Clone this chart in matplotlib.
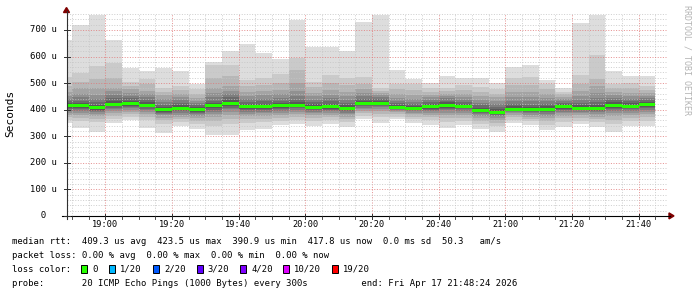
"""SmokePing-style latency graph (rrdtool look) redrawn with matplotlib."""

import numpy as np
import pandas as pd
import matplotlib

matplotlib.use("Agg")
import matplotlib.pyplot as plt
import matplotlib.dates as mdates
import matplotlib.transforms as mtrans
from matplotlib.lines import Line2D
from matplotlib.patches import Polygon, Rectangle


# ---- data -------------------------------------------------------------
# 5 minute rounds starting 18:45, 20 pings each (sorted, microseconds)
round_start = pd.date_range("2026-04-17 18:45", periods=37, freq="5min")
view_start = pd.Timestamp("2026-04-17 18:48:24")
view_end = pd.Timestamp("2026-04-17 21:48:24")

smoke_us = [
    [349, 362, 372, 381, 389, 395, 401, 405, 409, 412, 416, 420, 426, 433, 441, 452, 468, 490, 523, 664],
    [332, 358, 370, 380, 388, 395, 401, 406, 410, 413, 415, 419, 425, 434, 446, 460, 480, 505, 538, 720],
    [317, 352, 365, 376, 384, 391, 396, 400, 404, 406, 408, 412, 418, 428, 440, 456, 482, 517, 566, 755],
    [350, 366, 377, 387, 395, 402, 408, 413, 417, 420, 422, 426, 432, 442, 455, 470, 483, 520, 574, 664],
    [360, 372, 382, 391, 399, 405, 410, 415, 419, 422, 424, 428, 434, 442, 452, 463, 476, 490, 505, 555],
    [332, 360, 372, 382, 391, 398, 404, 409, 413, 416, 418, 422, 428, 436, 446, 458, 472, 495, 517, 545],
    [313, 345, 360, 370, 378, 384, 389, 393, 396, 398, 400, 404, 410, 418, 428, 440, 455, 468, 483, 557],
    [338, 352, 363, 373, 381, 388, 394, 399, 403, 405, 407, 411, 417, 425, 435, 447, 460, 474, 488, 545],
    [326, 345, 358, 368, 376, 383, 388, 392, 396, 398, 400, 404, 409, 416, 424, 434, 445, 460, 476, 495],
    [304, 340, 358, 372, 383, 392, 399, 405, 410, 413, 415, 419, 425, 434, 446, 462, 483, 520, 567, 580],
    [304, 345, 365, 380, 392, 401, 408, 414, 419, 423, 425, 430, 437, 446, 458, 472, 490, 525, 567, 620],
    [323, 350, 364, 375, 384, 391, 397, 402, 406, 410, 412, 416, 422, 430, 440, 452, 466, 488, 513, 649],
    [327, 352, 366, 377, 386, 393, 399, 404, 408, 411, 413, 417, 423, 431, 441, 454, 470, 493, 521, 614],
    [342, 358, 370, 380, 389, 396, 402, 407, 411, 413, 415, 419, 425, 433, 444, 458, 475, 500, 533, 589],
    [345, 362, 374, 384, 393, 400, 406, 411, 414, 416, 418, 422, 429, 438, 452, 470, 500, 548, 596, 739],
    [338, 356, 368, 378, 386, 393, 398, 402, 406, 408, 410, 414, 420, 428, 438, 450, 464, 484, 505, 636],
    [345, 360, 371, 380, 388, 395, 400, 404, 408, 410, 412, 416, 422, 431, 442, 456, 474, 500, 530, 636],
    [335, 352, 364, 374, 382, 389, 395, 400, 403, 405, 407, 411, 417, 426, 437, 450, 468, 493, 521, 620],
    [363, 376, 386, 395, 402, 408, 413, 417, 420, 421, 423, 427, 433, 441, 451, 463, 478, 498, 523, 730],
    [350, 372, 385, 395, 403, 410, 415, 419, 422, 423, 424, 428, 433, 440, 448, 456, 464, 472, 480, 755],
    [363, 374, 383, 390, 396, 400, 403, 405, 407, 408, 410, 413, 418, 425, 434, 445, 458, 478, 498, 548],
    [350, 364, 374, 382, 389, 394, 398, 401, 403, 404, 406, 409, 414, 421, 430, 441, 455, 475, 498, 515],
    [342, 360, 372, 381, 389, 395, 400, 404, 408, 410, 412, 416, 421, 428, 436, 446, 457, 468, 480, 502],
    [332, 355, 369, 380, 389, 397, 403, 408, 412, 415, 417, 421, 427, 434, 442, 451, 460, 470, 480, 526],
    [342, 358, 370, 380, 388, 395, 401, 405, 409, 411, 413, 417, 422, 429, 437, 447, 458, 474, 492, 521],
    [327, 345, 357, 367, 375, 382, 387, 391, 394, 396, 398, 402, 408, 416, 426, 438, 452, 468, 486, 521],
    [317, 338, 351, 361, 369, 376, 381, 385, 388, 390, 392, 396, 402, 410, 420, 432, 446, 460, 476, 502],
    [350, 362, 371, 379, 386, 391, 395, 398, 400, 401, 403, 407, 413, 422, 434, 449, 468, 493, 521, 561],
    [344, 356, 366, 374, 381, 387, 391, 395, 397, 398, 400, 404, 410, 419, 431, 446, 465, 492, 523, 567],
    [323, 342, 356, 367, 376, 384, 390, 395, 399, 401, 403, 407, 413, 421, 431, 443, 458, 476, 498, 511],
    [335, 354, 367, 377, 386, 393, 399, 404, 408, 410, 412, 415, 420, 426, 433, 441, 449, 458, 467, 480],
    [345, 358, 369, 378, 386, 392, 397, 401, 403, 404, 406, 410, 416, 425, 437, 452, 472, 498, 530, 728],
    [335, 352, 364, 374, 383, 390, 396, 400, 403, 404, 406, 410, 417, 428, 443, 462, 488, 515, 607, 755],
    [317, 345, 362, 375, 386, 395, 402, 407, 412, 415, 417, 421, 427, 435, 444, 455, 466, 480, 495, 545],
    [338, 356, 369, 379, 388, 395, 401, 405, 409, 412, 414, 418, 424, 431, 440, 451, 463, 481, 500, 526],
    [338, 357, 371, 382, 391, 399, 405, 410, 414, 417, 419, 423, 429, 436, 444, 453, 463, 475, 488, 526],
]

median_us = [414, 414, 407, 421, 423, 417, 399, 406, 399, 414, 423.5, 411,
             412, 414, 417, 409, 411, 406, 422, 423, 409, 405, 411, 416,
             412, 397, 390.9, 402, 399, 402, 411, 405, 405, 416, 413, 417.8]

yticks = [0, 100, 200, 300, 400, 500, 600, 700]
ytick_labels = ["  0", "100 u", "200 u", "300 u", "400 u", "500 u", "600 u", "700 u"]
xtick_labels = ["19:00", "19:20", "19:40", "20:00", "20:20", "20:40",
                "21:00", "21:20", "21:40"]

loss_labels = ["0", "1/20", "2/20", "3/20", "4/20", "10/20", "19/20"]
loss_colors = ["#26ff00", "#00b8ff", "#0059ff", "#5e00ff", "#7e00ff", "#dd00ff", "#ff0000"]

legend_lines = [
    "median rtt:  409.3 us avg  423.5 us max  390.9 us min  417.8 us now  0.0 ms sd  50.3   am/s",
    "packet loss: 0.00 % avg  0.00 % max  0.00 % min  0.00 % now",
    "loss color:",
    "probe:       20 ICMP Echo Pings (1000 Bytes) every 300s          end: Fri Apr 17 21:48:24 2026",
]

# ---- layout (pixel based, like rrdtool) --------------------------------
W, H = 697, 297
MONO = "DejaVu Sans Mono"
AXIS = "#303030"
ARROW = "#7f0000"


def fx(px):
    return px / W


def fy(py):
    return 1 - py / H


L, R, T, B = 66.5, 666.5, 13.5, 215.9

fig = plt.figure(figsize=(W / 100, H / 100), dpi=100)
fig.patch.set_facecolor("white")
ax = fig.add_axes([fx(L), fy(B), fx(R) - fx(L), fy(T) - fy(B)])
ax.set_facecolor("white")

edges = mdates.date2num(round_start.to_pydatetime())
pings = np.array(smoke_us, dtype=float)
med = np.array(median_us)

# smoke: outer pair lightest, inner pair darkest
half = pings.shape[1] // 2
for k in range(half):
    level = int(190 / half * (half - 1 - k)) + 50
    grey = "#{0:02x}{0:02x}{0:02x}".format(level)
    lo = np.r_[pings[:, k], pings[-1, k]]
    hi = np.r_[pings[:, -1 - k], pings[-1, -1 - k]]
    ax.fill_between(edges, lo, hi, step="post", color=grey, lw=0,
                    antialiased=False, zorder=1)

# median band
sw = 5.6
ax.fill_between(edges, np.r_[med, med[-1]] - sw, np.r_[med, med[-1]] + sw,
                step="post", color=loss_colors[0], lw=0, antialiased=False, zorder=3)

ax.set_xlim(mdates.date2num(view_start), mdates.date2num(view_end))
ax.set_ylim(0, 762)

ax.xaxis.set_major_locator(mdates.MinuteLocator(byminute=[0, 20, 40]))
ax.xaxis.set_minor_locator(mdates.MinuteLocator(byminute=range(0, 60, 5)))
ax.set_yticks(yticks)
ax.set_yticks(np.arange(0, 762, 20), minor=True)
ax.set_axisbelow(False)
ax.grid(which="minor", color="#c4c4c4", lw=0.72, ls=(0, (1, 1.6)), alpha=0.8)
ax.grid(which="major", color="#e07878", lw=0.72, ls=(0, (1, 1.6)), alpha=0.8)
ax.tick_params(which="both", length=0, labelbottom=False, labelleft=False)
for sp in ax.spines.values():
    sp.set_visible(False)

# axis lines with arrows
fig.add_artist(Line2D([fx(L), fx(L)], [fy(219), fy(11)], color=AXIS, lw=0.8))
fig.add_artist(Line2D([fx(62), fx(670)], [fy(B), fy(B)], color="black", lw=0.8))
fig.add_artist(Polygon([[fx(L), fy(7.5)], [fx(L - 3), fy(12.5)], [fx(L + 3), fy(12.5)]],
                       closed=True, color=ARROW, transform=fig.transFigure))
fig.add_artist(Polygon([[fx(674), fy(B)], [fx(669), fy(B - 3)], [fx(669), fy(B + 3)]],
                       closed=True, color=ARROW, transform=fig.transFigure))

# y ticks and labels
ytr = mtrans.blended_transform_factory(fig.transFigure, ax.transData)
for v, lab in zip(yticks, ytick_labels):
    fig.add_artist(Line2D([fx(63.5), fx(69.5)], [v, v], transform=ytr, color=AXIS, lw=0.7))
    fig.text(fx(30), v, lab, transform=ytr, ha="left", va="center",
             family=MONO, fontsize=6.4)

# x ticks and labels
xtr = mtrans.blended_transform_factory(ax.transData, fig.transFigure)
for t in ax.xaxis.get_minorticklocs():
    fig.add_artist(Line2D([t, t], [fy(B), fy(B + 3)], transform=xtr, color=AXIS, lw=0.6))
for t, lab in zip(ax.xaxis.get_majorticklocs(), xtick_labels):
    fig.add_artist(Line2D([t, t], [fy(B - 2), fy(B + 3)], transform=xtr, color=AXIS, lw=0.7))
    fig.text(t, fy(224.5), lab, transform=xtr, ha="center", va="center",
             family=MONO, fontsize=6.2)

fig.text(fx(10.5), fy(113.7), "Seconds", rotation=90, ha="center", va="center",
         family=MONO, fontsize=8)
fig.text(fx(687.5), fy(5), "RRDTOOL / TOBI OETIKER", rotation=270, ha="center",
         va="top", family=MONO, fontsize=6, color="#b4b4b4")

# legend block
for i, line in enumerate(legend_lines):
    fig.text(fx(12.3), fy(241 + 14 * i), line, ha="left", va="center",
             family=MONO, fontsize=6.37)

box_x = [81, 109.3, 153, 196.7, 240, 283.3, 331.7]
for bx, lab, col in zip(box_x, loss_labels, loss_colors):
    fig.add_artist(Rectangle((fx(bx), fy(273.3)), 6 / W, 8 / H, facecolor=col,
                             edgecolor="black", lw=0.7, transform=fig.transFigure))
    fig.text(fx(bx + 11), fy(269), lab, ha="left", va="center",
             family=MONO, fontsize=6.37)

fig.savefig("out.png", dpi=100)
